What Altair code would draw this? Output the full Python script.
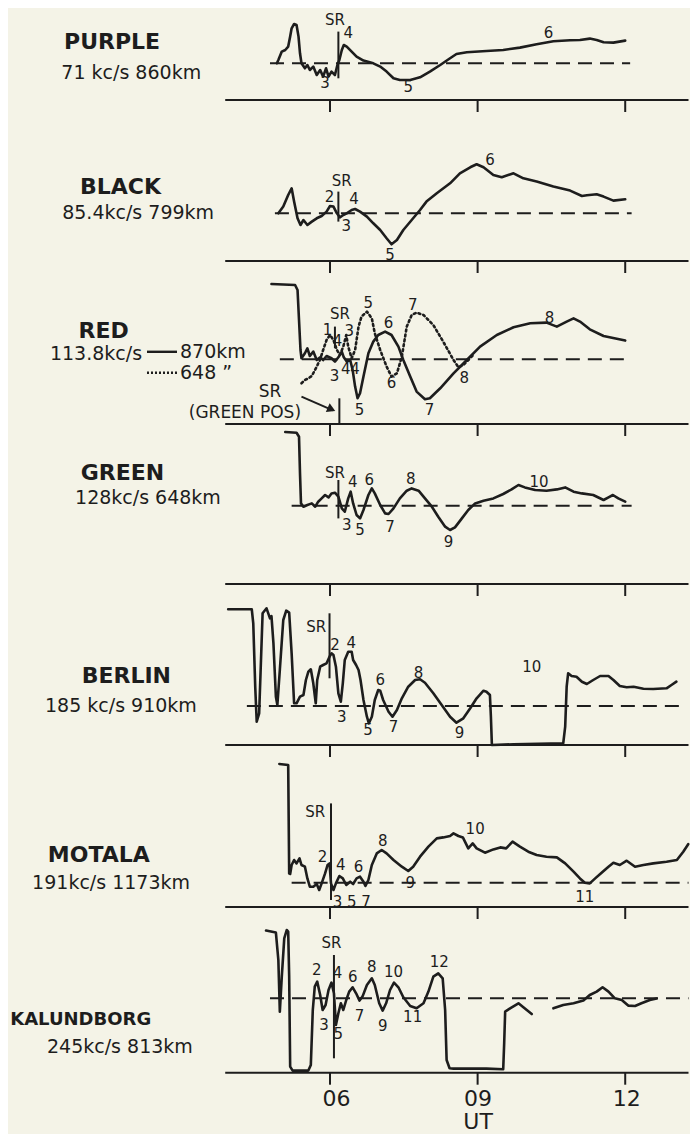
import altair as alt
import pandas as pd

# ---------------- data (UT hours, relative amplitude; dashed baseline = 0) ----------------
PURPLE_T = [4.92,4.95,5.02,5.09,5.15,5.19,5.22,5.27,5.32,5.36,5.39,5.42,5.49,5.54,5.59,5.66,5.73,5.80,5.86,5.92,
            5.97,6.03,6.10,6.15,6.19,6.24,6.28,6.34,6.44,6.54,6.68,6.88,7.02,7.15,7.29,7.42,7.63,7.83,8.03,8.24,
            8.44,8.57,8.78,9.18,9.52,9.86,10.20,10.54,10.88,11.08,11.28,11.42,11.56,11.76,12.00]
PURPLE_V = [0,3.3,11.7,13.3,16.7,26.7,35,39.3,38.3,26.7,10,0,-5,-1.7,-6.7,-3.3,-11.7,-6.7,-13.3,-5,
            -13.3,-8.3,-11.7,-1.7,3.3,13.3,18.3,16.7,11.7,6.7,2.7,0,-3.3,-8.3,-15,-16.7,-16.7,-14,-8.3,-1.7,
            5,9.3,11,12.3,13.3,15.7,19,22,23,23.3,24.7,23.3,21,20.7,22.7]

BLACK_T = [4.95,5.05,5.15,5.22,5.27,5.34,5.40,5.46,5.54,5.63,5.73,5.83,5.93,6.00,6.07,6.14,6.20,6.27,6.34,6.44,
           6.51,6.61,6.75,6.88,7.02,7.15,7.25,7.36,7.49,7.66,7.83,7.96,8.17,8.44,8.64,8.85,8.98,9.12,9.32,9.49,
           9.73,9.93,10.20,10.54,10.88,11.12,11.22,11.42,11.56,11.76,12.00]
BLACK_V = [0,6.7,18.3,25,11.7,-5,-11.7,-6.7,-11.7,-8.3,-5,-2.7,1.7,7.3,6.7,0,-4,-1.7,0,3.3,
           4.3,1.7,-3.3,-10,-16.7,-25,-31,-26.7,-16.7,-6.7,3.3,11.7,20,30,40,46,49,46,38.3,36,
           40,35,31.7,26.7,22.7,17.3,18,19,16.7,12.7,14]

RED_T = [4.81,5.29,5.34,5.37,5.40,5.42,5.49,5.54,5.59,5.66,5.73,5.80,5.86,5.93,6.03,6.10,6.17,6.24,6.28,6.34,
         6.41,6.46,6.51,6.56,6.61,6.68,6.78,6.88,6.98,7.12,7.25,7.39,7.49,7.63,7.76,7.93,8.03,8.24,8.51,8.78,
         9.05,9.39,9.73,10.07,10.40,10.61,10.81,10.95,11.08,11.28,11.56,12.00]
RED_V = [75.3,74.3,69.3,39.3,9.3,1,6,11,3.3,7.7,-0.7,2,-0.7,3.3,1,-2.3,2,7.7,2,-2.3,
         -0.7,-10.7,-27.3,-39,-34,-17.3,6,17.7,24.3,27.7,24.3,12.7,-0.7,-17.3,-32.3,-40,-39,-29,-14,-0.7,
         12.7,24.3,32,36,36.7,32.7,37.7,41,37.7,30,23.3,18.7]
RED_DOT_T = [5.42,5.49,5.56,5.63,5.73,5.80,5.86,5.93,6.00,6.07,6.14,6.20,6.27,6.33,6.37,6.44,6.51,6.58,6.64,6.75,
             6.85,6.91,7.02,7.15,7.25,7.36,7.46,7.56,7.66,7.76,7.90,8.10,8.30,8.51,8.61,8.71,8.81,8.91]
RED_DOT_V = [-24,-20.7,-19,-16.7,-7.3,0,9.3,19.3,24.3,19.3,9.3,4.3,12.7,24.3,12.7,1,9.3,32.7,42.7,47.7,
             41,26,9.3,-7.3,-17.3,-14,2.7,32.7,44.3,46.7,44.3,34.3,17.7,-0.7,-8,-5.7,-0.7,4.3]

GREEN_T = [5.09,5.32,5.37,5.39,5.41,5.46,5.54,5.63,5.70,5.76,5.83,5.90,5.97,6.03,6.10,6.17,6.24,6.30,6.37,6.42,
           6.47,6.54,6.61,6.68,6.78,6.85,6.91,7.02,7.12,7.19,7.29,7.42,7.56,7.66,7.80,7.93,8.07,8.20,8.34,8.44,
           8.54,8.68,8.81,8.95,9.12,9.32,9.52,9.69,9.83,9.96,10.17,10.40,10.61,10.78,10.95,11.12,11.35,11.56,11.66,11.75,
           11.86,12.00]
GREEN_V = [73.7,73,69,32.3,2.3,-1,0.7,2.3,-1,4,7.3,10.7,8.3,12.3,13,9,-2.7,-6,7.3,14,
           2.3,-9.3,-12.7,-4.3,10.7,17.3,12.3,0.7,-7.7,-8.3,-2.7,7.3,15,17.3,15,7.3,-1,-11,-21,-24.3,
           -21.7,-12.7,-4.3,2.3,5,7.3,11.7,16.3,20.7,18.3,15.7,15,16.3,18.3,14,12.3,10.7,5.7,8.3,10.7,
           7.3,4]

BERLIN_T = [3.93,4.41,4.44,4.48,4.51,4.56,4.59,4.63,4.71,4.78,4.81,4.85,4.90,4.93,4.98,5.05,5.11,5.17,5.22,5.27,
            5.32,5.39,5.46,5.51,5.56,5.61,5.66,5.71,5.74,5.80,5.86,5.93,5.99,6.03,6.07,6.12,6.17,6.22,6.26,6.30,
            6.37,6.44,6.47,6.53,6.58,6.62,6.68,6.75,6.79,6.85,6.91,6.98,7.02,7.08,7.19,7.27,7.36,7.46,7.59,7.73,
            7.83,7.93,8.10,8.27,8.44,8.57,8.71,8.85,8.98,9.12,9.18,9.25,9.27,9.29,9.73,10.74,10.78,10.81,10.84,10.91,
            11.01,11.12,11.22,11.35,11.49,11.66,11.76,11.89,12.03,12.17,12.37,12.57,12.84,12.94,13.04]
BERLIN_V = [96.7,96.7,82.7,19.3,-15.7,-7.3,36,92.7,97.7,87.7,90,62.7,9.3,1,36,86,95.3,93.3,52.7,2.7,
            2.7,9.3,11,26,34.3,36.7,22.7,2.7,26,39.3,41,42.7,49.3,52.7,51,39.3,12.7,4.3,22.7,46,
            54.3,54.3,46,41,36,26,6,-10.7,-17.3,-10.7,6,16,15.3,6,-5.7,-10.7,-4,7.7,19.3,26,
            26.7,23.3,12.7,1,-10.7,-16.7,-12.3,-2.3,7.7,15.3,14.3,11,-10.7,-39,-38.3,-37.3,-20.7,19.3,32.7,30,
            29.3,24.3,22,26,30,30,26,20,18.7,19.3,17.3,17,17.7,21,24.3]

MOTALA_T = [4.97,5.15,5.17,5.19,5.22,5.27,5.32,5.38,5.42,5.49,5.54,5.59,5.66,5.73,5.78,5.83,5.90,5.95,5.99,6.02,
            6.07,6.12,6.19,6.26,6.33,6.41,6.47,6.54,6.61,6.68,6.72,6.78,6.85,6.95,7.05,7.15,7.29,7.46,7.59,7.69,
            7.83,8.00,8.17,8.30,8.44,8.51,8.61,8.70,8.81,8.90,8.98,9.15,9.32,9.46,9.58,9.71,9.86,10.03,10.20,10.40,
            10.61,10.78,10.95,11.08,11.18,11.28,11.39,11.52,11.66,11.76,11.89,12.03,12.20,12.37,12.57,12.84,13.05,13.18,13.28]
MOTALA_V = [118.7,117.7,9.3,8.7,17.7,22.7,19.3,24.3,17.7,16,4.3,-4,-4,-1.3,-7.3,-0.7,9.3,17.7,19.3,-0.7,
            -7.3,-0.7,6.7,4.3,-2.3,1,-1.3,4.3,6,1,-3.3,2.7,17.7,29.3,32.7,29.3,22.7,16,11.7,16,
            26,36,44.3,45.3,46.7,49.3,46.7,45.3,34.3,39.3,34.3,30,33.3,35.3,34.3,41,36,31,27.7,26,
            25.3,19.3,11,4.3,0,-0.7,4.3,10,16,20,17.7,22,16,17.7,19.3,21,22.7,31,38.5]

KAL_T = [4.70,4.90,4.95,4.98,5.02,5.07,5.12,5.15,5.17,5.19,5.24,5.56,5.61,5.65,5.69,5.74,5.80,5.85,5.91,5.97,
         6.03,6.08,6.12,6.17,6.22,6.27,6.33,6.39,6.46,6.53,6.60,6.66,6.75,6.85,6.91,7.00,7.07,7.14,7.22,7.30,
         7.39,7.49,7.63,7.76,7.90,8.00,8.10,8.20,8.29,8.34,8.37,8.43,8.51,9.18,9.52,9.54,9.56,9.66,9.83,9.93,
         10.10]
KAL_V = [67.7,65.7,38.3,-13.3,21.7,60,68.3,66.7,21.7,-68.3,-72.3,-72.3,-66.7,-11.7,11.7,16.7,3.3,-11.7,-6.7,8.3,
         15.7,5,-26.7,-15,-5,-11.7,-1.7,6.7,11,5,-2.3,1.7,13.3,20,13.3,-5,-12.3,-5,8.3,15.7,
         11,1,-7.7,-10,-5,6.7,21.7,25,20,-11.7,-61.7,-70,-70.3,-70.3,-71,-45,-13.3,-10,-5,-9,
         -15.7]
KAL2_T = [10.54,10.74,10.95,11.15,11.28,11.42,11.54,11.66,11.79,11.93,12.06,12.20,12.33,12.50,12.64]
KAL2_V = [-10,-6.7,-5,-2.3,3.3,6.7,11,6.7,0,-1.7,-7.3,-7.7,-5,-1.7,-0.3]

TICK_HOURS = [6, 9, 12]
TICK_LABELS = ["06", "09", "12"]

# ---------------- style ----------------
INK = "#1d1d1d"
BG = "#f4f3e7"
FONT = "DejaVu Sans"
PXH = 49.2
W = 682
X0 = -0.545
X1 = X0 + W / PXH
LINE_END = X0 + (W - 1.5) / PXH
AXIS_START = 3.87
xs = alt.Scale(domain=[X0, X1], nice=False, zero=False)


def panel(lo, hi, axis, base, traces, sr, labels, titles, subs, extra=None,
          title_align="center", title_size=22):
    ys = alt.Scale(domain=[lo, hi], nice=False, zero=False)

    def X(f="t"):
        return alt.X(f"{f}:Q", scale=xs, axis=None)

    def Y(f="v"):
        return alt.Y(f"{f}:Q", scale=ys, axis=None)

    layers = []
    layers.append(alt.Chart(pd.DataFrame({"t": [base[0]], "t2": [min(base[1], LINE_END)], "v": [0]}))
                  .mark_rule(color=INK, strokeWidth=2, strokeDash=[14, 8])
                  .encode(x=X(), x2="t2:Q", y=Y()))
    layers.append(alt.Chart(pd.DataFrame({"t": [AXIS_START], "t2": [LINE_END], "v": [axis]}))
                  .mark_rule(color=INK, strokeWidth=2)
                  .encode(x=X(), x2="t2:Q", y=Y()))
    layers.append(alt.Chart(pd.DataFrame({"t": TICK_HOURS, "v": [axis] * 3, "v2": [axis - 12] * 3}))
                  .mark_rule(color=INK, strokeWidth=2)
                  .encode(x=X(), y=Y(), y2="v2:Q"))
    layers.append(alt.Chart(pd.DataFrame({"t": [sr[0]], "v": [sr[1]], "v2": [sr[2]]}))
                  .mark_rule(color=INK, strokeWidth=2)
                  .encode(x=X(), y=Y(), y2="v2:Q"))
    for (t, v, dash) in traces:
        df = pd.DataFrame({"t": t, "v": v, "i": list(range(len(t)))})
        kw = dict(color=INK, strokeWidth=2.6, strokeCap="round", strokeJoin="round")
        if dash:
            kw["strokeDash"] = dash
        layers.append(alt.Chart(df).mark_line(**kw).encode(x=X(), y=Y(), order="i:Q"))
    ldf = pd.DataFrame(labels, columns=["s", "t", "v"])
    layers.append(alt.Chart(ldf).mark_text(font=FONT, fontSize=15, color=INK, baseline="middle")
                  .encode(x=X(), y=Y(), text="s:N"))
    tdf = pd.DataFrame(titles, columns=["s", "t", "v"])
    layers.append(alt.Chart(tdf).mark_text(font=FONT, fontSize=title_size, fontWeight="bold", color=INK,
                                           baseline="middle", align=title_align)
                  .encode(x=X(), y=Y(), text="s:N"))
    if subs:
        sdf = pd.DataFrame(subs, columns=["s", "t", "v"])
        layers.append(alt.Chart(sdf).mark_text(font=FONT, fontSize=19, color=INK, baseline="middle")
                      .encode(x=X(), y=Y(), text="s:N"))
    if extra:
        layers += extra(X, Y)
    return alt.layer(*layers).properties(width=W, height=hi - lo)


p1 = panel(-36.7, 55.3, -36.7, (4.78, 12.10),
           [(PURPLE_T, PURPLE_V, None)], (6.17, 31.7, -15),
           [("SR", 6.10, 43.3), ("4", 6.37, 30), ("3", 5.90, -20), ("5", 7.59, -24), ("6", 10.44, 30.7)],
           [("PURPLE", 1.57, 21.6)], [("71 kc/s  860km", 1.96, -9.7)])

p2 = panel(-47.7, 113.3, -47.7, (4.88, 12.13),
           [(BLACK_T, BLACK_V, None)], (6.17, 21.7, -8.3),
           [("SR", 6.24, 32.7), ("2", 5.99, 16.7), ("4", 6.49, 14), ("3", 6.33, -12.7),
            ("5", 7.22, -41.7), ("6", 9.25, 53.3)],
           [("BLACK", 1.74, 26.6)], [("85.4kc/s 799km", 2.10, 0)])


def red_extra(X, Y):
    out = []
    leg = pd.DataFrame({"t": [2.28], "t2": [2.89], "v": [7.5]})
    out.append(alt.Chart(leg).mark_rule(color=INK, strokeWidth=2.4).encode(x=X(), x2="t2:Q", y=Y()))
    leg2 = pd.DataFrame({"t": [2.28], "t2": [2.89], "v": [-13.5]})
    out.append(alt.Chart(leg2).mark_rule(color=INK, strokeWidth=2.4, strokeDash=[2, 2]).encode(x=X(), x2="t2:Q", y=Y()))
    lt = pd.DataFrame([("113.8kc/s", 2.18, 5.5)], columns=["s", "t", "v"])
    out.append(alt.Chart(lt).mark_text(font=FONT, fontSize=19, color=INK, align="right", baseline="middle")
               .encode(x=X(), y=Y(), text="s:N"))
    rt = pd.DataFrame([("870km", 2.95, 7.5), ("648 \u201d", 2.95, -13.5)], columns=["s", "t", "v"])
    out.append(alt.Chart(rt).mark_text(font=FONT, fontSize=19, color=INK, align="left", baseline="middle")
               .encode(x=X(), y=Y(), text="s:N"))
    gp = pd.DataFrame([("SR", 4.78, -32.7), ("(GREEN POS)", 4.27, -53.7)], columns=["s", "t", "v"])
    out.append(alt.Chart(gp).mark_text(font=FONT, fontSize=17, color=INK, baseline="middle")
               .encode(x=X(), y=Y(), text="s:N"))
    arrow = pd.DataFrame({"t": [5.42], "t2": [6.06], "v": [-37.4], "v2": [-51.0]})
    out.append(alt.Chart(arrow).mark_rule(color=INK, strokeWidth=2)
               .encode(x=X(), x2="t2:Q", y=Y(), y2="v2:Q"))
    head = pd.DataFrame({"t": [6.03], "v": [-50.0]})
    out.append(alt.Chart(head).mark_point(shape="triangle-right", filled=True, color=INK, size=90, angle=24, opacity=1)
               .encode(x=X(), y=Y()))
    gline = pd.DataFrame({"t": [6.19], "v": [-39], "v2": [-64.7]})
    out.append(alt.Chart(gline).mark_rule(color=INK, strokeWidth=2).encode(x=X(), y=Y(), y2="v2:Q"))
    return out


p3 = panel(-64.7, 98.3, -64.7, (4.98, 12.13),
           [(RED_T, RED_V, None), (RED_DOT_T, RED_DOT_V, [2, 3])], (6.10, 32.7, 11),
           [("SR", 6.20, 45.3), ("1", 5.95, 29.3), ("4", 6.15, 18.7), ("3", 6.39, 28.7),
            ("3", 6.09, -16.7), ("4", 6.32, -9.3), ("4", 6.51, -9.3),
            ("5", 6.78, 56), ("6", 7.19, 36), ("7", 7.68, 54.3), ("6", 7.25, -24),
            ("5", 6.60, -50.7), ("7", 8.02, -50.7), ("8", 8.73, -19), ("8", 10.46, 41)],
           [("RED", 1.40, 28.5)], [], extra=red_extra)

p4 = panel(-78.3, 81.7, -78.3, (5.22, 12.13),
           [(GREEN_T, GREEN_V, None)], (6.17, 25.7, -12.7),
           [("SR", 6.10, 32.3), ("4", 6.46, 24), ("6", 6.80, 25.7), ("8", 7.64, 26.3), ("3", 6.34, -19.3),
            ("5", 6.61, -24.3), ("7", 7.22, -21.7), ("9", 8.41, -36), ("10", 10.25, 24)],
           [("GREEN", 1.78, 32.7)], [("128kc/s  648km", 2.30, 7.7)])

p5 = panel(-39, 122, -39, (4.31, 13.11),
           [(BERLIN_T, BERLIN_V, None)], (5.99, 92.7, 27.7),
           [("SR", 5.72, 78.7), ("2", 6.10, 61), ("4", 6.43, 63.3), ("6", 7.02, 26), ("8", 7.80, 33.3),
            ("10", 10.10, 39.3), ("3", 6.24, -10.7), ("5", 6.77, -24), ("7", 7.29, -21.3), ("9", 8.63, -26.7)],
           [("BERLIN", 1.86, 30)], [("185 kc/s  910km", 1.75, 0)])

p6 = panel(-24.3, 137.7, -24.3, (5.22, 13.47),
           [(MOTALA_T, MOTALA_V, None)], (6.02, 79.3, -17.3),
           [("SR", 5.70, 71), ("2", 5.85, 26), ("4", 6.22, 17.7), ("6", 6.58, 15.3), ("8", 7.07, 42),
            ("10", 8.95, 53.3), ("3", 6.15, -19), ("5", 6.44, -19), ("7", 6.73, -19), ("9", 7.63, -0.7),
            ("11", 11.18, -14)],
           [("MOTALA", 1.30, 27.7)], [("191kc/s 1173km", 1.55, 0)])


def kal_extra(X, Y):
    df = pd.DataFrame({"s": TICK_LABELS, "t": [6.13, 9.01, 12.03], "v": [-100.5] * 3})
    ut = pd.DataFrame({"s": ["UT"], "t": [9.01], "v": [-123.5]})
    return [
        alt.Chart(df).mark_text(font=FONT, fontSize=22, color=INK, baseline="middle").encode(x=X(), y=Y(), text="s:N"),
        alt.Chart(ut).mark_text(font=FONT, fontSize=22, color=INK, baseline="middle").encode(x=X(), y=Y(), text="s:N"),
    ]


p7 = panel(-135.7, 91.3, -74.4, (4.78, 13.47),
           [(KAL_T, KAL_V, None), (KAL2_T, KAL2_V, None)], (6.08, 43.3, -60),
           [("SR", 6.03, 55), ("2", 5.73, 28.3), ("4", 6.15, 25), ("6", 6.46, 21.7), ("8", 6.85, 31),
            ("10", 7.29, 26.7), ("12", 8.22, 36.7), ("3", 5.88, -26.7), ("5", 6.17, -35.7), ("7", 6.60, -17.7),
            ("9", 7.07, -27.7), ("11", 7.68, -19)],
           [("KALUNDBORG", -0.50, -22)], [("245kc/s  813km", 1.73, -49)], extra=kal_extra,
           title_align="left", title_size=18)

chart = alt.vconcat(p1, p2, p3, p4, p5, p6, p7, spacing=0, bounds="flush").properties(
    padding=0, background=BG
).configure_view(stroke=None)

chart.save("out.html", embed_options={"renderer": "svg", "actions": False})
